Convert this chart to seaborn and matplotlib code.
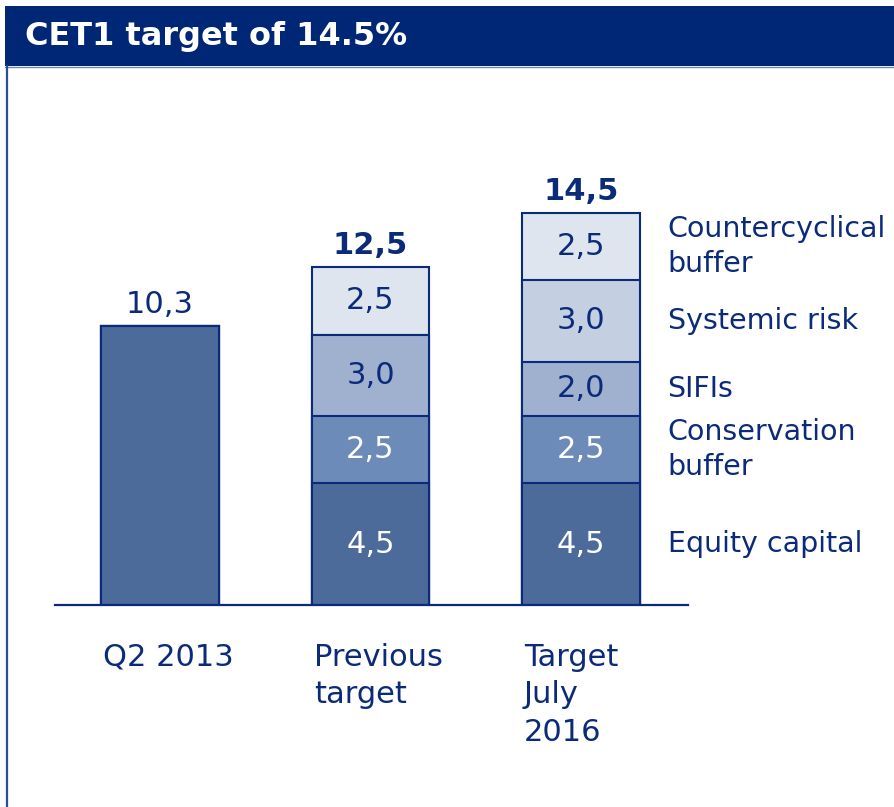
import matplotlib
matplotlib.use("Agg")
import matplotlib.pyplot as plt
import seaborn as sns
import numpy as np
import pandas as pd
from matplotlib.patches import Rectangle
from matplotlib.lines import Line2D

# ---------------- data ----------------
title = "CET1 target of 14.5%"
categories = ["Q2 2013", "Previous\ntarget", "Target\nJuly\n2016"]
components = ["Equity capital", "Conservation\nbuffer", "SIFIs",
              "Systemic risk", "Countercyclical\nbuffer"]
equity = [10.3, 4.5, 4.5]
conservation = [0.0, 2.5, 2.5]
sifis = [0.0, 3.0, 2.0]
systemic = [0.0, 0.0, 3.0]
countercyclical = [0.0, 2.5, 2.5]

# ---------------- style ----------------
NAVY = "#0B2B7A"
TITLE_BG = "#002776"
colors = ["#4C6A9A", "#6D8BB8", "#9FB1CF", "#C4CFE1", "#DFE5EF"]
inside_text = ["white", "white", NAVY, NAVY, NAVY]

sns.set_theme(style="white")
plt.rcParams["font.family"] = ["DejaVu Sans"]

W, H = 894, 807
fig = plt.figure(figsize=(W / 100, H / 100), dpi=100)
fig.patch.set_facecolor("white")

base_px, top_px = 605, 150
ax = fig.add_axes([55 / W, (H - base_px) / H, (688 - 55) / W, (base_px - top_px) / H])

series = np.array([equity, conservation, sifis, systemic, countercyclical])
cum = np.cumsum(series, axis=0)
bar_w = 0.56

df = pd.DataFrame({"category": categories})
for k in reversed(range(len(components))):
    df["value"] = cum[k]
    sns.barplot(data=df, x="category", y="value", order=categories,
                color=colors[k], saturation=1, width=bar_w,
                edgecolor=NAVY, linewidth=1.5, errorbar=None, ax=ax)

def fmt(v):
    return f"{v:.1f}".replace(".", ",")

n_cat = len(categories)
for j in range(n_cat):
    vals = series[:, j]
    stacked = np.count_nonzero(vals) > 1
    total = cum[-1, j]
    if stacked:
        for k in range(len(components)):
            v = vals[k]
            if v > 0:
                ax.text(j, cum[k, j] - v / 2, fmt(v), ha="center", va="center",
                        color=inside_text[k], fontsize=22)
    ax.annotate(fmt(total), xy=(j, total), xytext=(0, 5), textcoords="offset points",
                ha="center", va="bottom", color=NAVY, fontsize=22,
                fontweight="bold" if stacked else "normal")

# component labels to the right of the last bar
last = n_cat - 1
for k in range(len(components)):
    v = series[k, last]
    if v > 0:
        ax.text(last + bar_w / 2 + 0.133, cum[k, last] - v / 2, components[k],
                ha="left", va="center", color=NAVY, fontsize=20.5,
                linespacing=1.3, clip_on=False)

ax.set_xlim(-0.5, 2.51)
ax.set_ylim(0, (base_px - top_px) / 27.05)
ax.set_xticks(np.arange(n_cat) - bar_w / 2 + 0.01)
ax.set_xticklabels(categories, ha="left", color=NAVY, fontsize=22, linespacing=1.38)
ax.tick_params(axis="x", length=0, pad=27)
ax.set_yticks([])
ax.set_xlabel("")
ax.set_ylabel("")
for s in ["top", "right", "left"]:
    ax.spines[s].set_visible(False)
ax.spines["bottom"].set_color(NAVY)
ax.spines["bottom"].set_linewidth(1.6)
ax.set_facecolor("none")

# header bar and frame
fig.patches.append(Rectangle((5 / W, (H - 66) / H), (W - 5) / W, 60 / H,
                             transform=fig.transFigure, facecolor=TITLE_BG,
                             edgecolor="none", zorder=0))
fig.lines.append(Line2D([5 / W, 1], [(H - 66.5) / H, (H - 66.5) / H],
                        transform=fig.transFigure, color="#6F88B8", linewidth=1))
fig.lines.append(Line2D([6.5 / W, 6.5 / W], [0, (H - 66) / H],
                        transform=fig.transFigure, color="#2B4C9B", linewidth=1.6))
fig.text(25 / W, (H - 37) / H, title, color="white", fontsize=23, fontweight="bold",
         family=["DejaVu Sans"], ha="left", va="center")

fig.savefig("out.png", dpi=100)
